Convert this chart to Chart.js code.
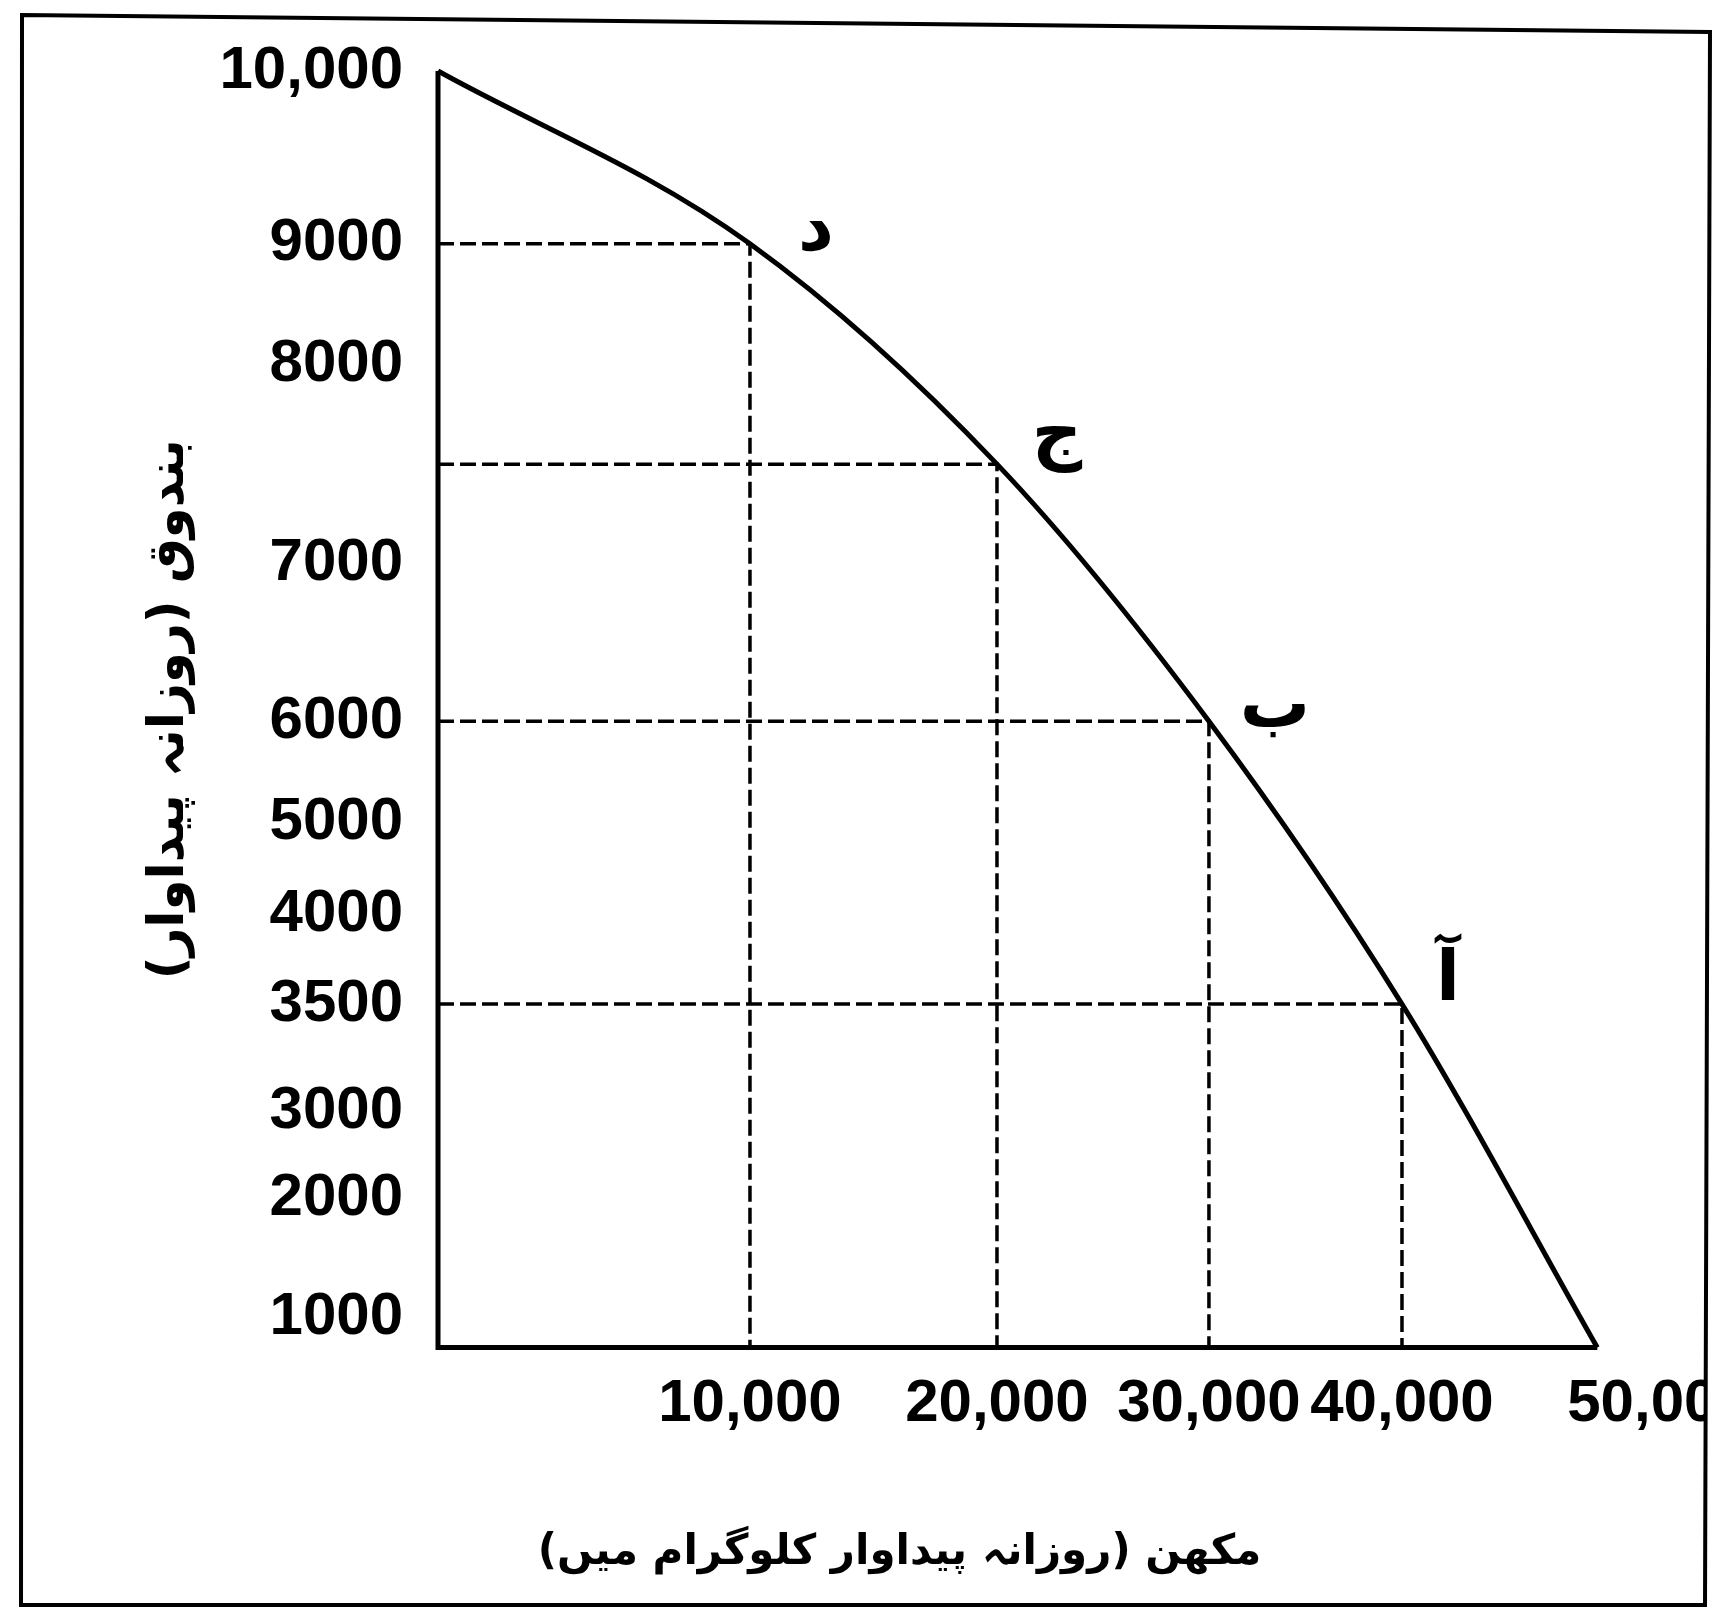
<!DOCTYPE html>
<html>
<head>
<meta charset="utf-8">
<script src="https://cdn.jsdelivr.net/npm/chart.js@4.4.1/dist/chart.umd.min.js"></script>
<style>
  html, body { margin: 0; padding: 0; background: #fff; overflow: hidden; width: 1714px; height: 1611px; }
  #wrap { position: absolute; left: 0; top: 0; width: 1714px; height: 1611px; overflow: hidden; }
  canvas { position: absolute; left: 0; top: 0; }
</style>
</head>
<body>
<div id="wrap"><canvas id="c" width="1800" height="1611" dir="rtl"></canvas></div>
<script>
// ---------------- DATA ----------------
const curveButter = [0, 10000, 20000, 30000, 40000, 47600];
const curveGuns   = [10000, 9000, 7500, 6000, 3500, 0];

const pointLetters = ['د', 'ج', 'ب', 'آ'];
const pointButter  = [10000, 20000, 30000, 40000];
const pointGuns    = [9000, 7500, 6000, 3500];

const yTickValues = [1000, 2000, 3000, 3500, 4000, 5000, 6000, 7000, 8000, 9000, 10000];
const yTickLabels = ['1000', '2000', '3000', '3500', '4000', '5000', '6000', '7000', '8000', '9000', '10,000'];
const xTickValues = [10000, 20000, 30000, 40000, 50000];
const xTickLabels = ['10,000', '20,000', '30,000', '40,000', '50,000'];

const xTitle = 'مکھن (روزانہ پیداوار کلوگرام میں)';
const yTitle = 'بندوق (روزانہ پیداوار)';

// ---------------- LAYOUT (hand-drawn, non-uniform axis spacing) ----------------
const axisSpacing = {
  x: { values: [0, 10000, 20000, 30000, 40000, 50000],
       fractions: [0, 0.2555, 0.4578, 0.6314, 0.7895, 1] },
  y: { values: [0, 1000, 2000, 3000, 3500, 4000, 5000, 6000, 7000, 8000, 9000, 10000],
       fractions: [0, 0.0233, 0.1166, 0.1851, 0.2691, 0.3390, 0.4114, 0.4907, 0.6143, 0.7698, 0.8647, 1] }
};
const tickSets = { x: xTickValues, y: yTickValues };
const letterOffsets = [[66, -12], [60, -26], [66, -12], [46, -22]];

// ---------------- custom scale: linear values, hand-drawn spacing ----------------
class WarpScale extends Chart.LinearScale {
  buildTicks() { return tickSets[this.id].map(v => ({ value: v })); }
  _frac(v) {
    const kv = axisSpacing[this.id].values, kf = axisSpacing[this.id].fractions;
    const n = kv.length - 1;
    if (v <= kv[0]) return kf[0] + (v - kv[0]) * (kf[1] - kf[0]) / (kv[1] - kv[0]);
    for (let i = 1; i <= n; i++) {
      if (v <= kv[i]) {
        const t = (v - kv[i - 1]) / (kv[i] - kv[i - 1]);
        return kf[i - 1] + t * (kf[i] - kf[i - 1]);
      }
    }
    return kf[n] + (v - kv[n]) * (kf[n] - kf[n - 1]) / (kv[n] - kv[n - 1]);
  }
  getPixelForValue(value) {
    if (value === null || value === undefined || isNaN(value)) return NaN;
    return this.getPixelForDecimal(this._frac(+value));
  }
  getValueForPixel(pixel) {
    const d = this.getDecimalForPixel(pixel);
    const kv = axisSpacing[this.id].values, kf = axisSpacing[this.id].fractions;
    for (let i = 1; i < kv.length; i++) {
      if (d <= kf[i]) return kv[i - 1] + (d - kf[i - 1]) / (kf[i] - kf[i - 1]) * (kv[i] - kv[i - 1]);
    }
    return kv[kv.length - 1];
  }
}
WarpScale.id = 'warp';
WarpScale.defaults = {};
Chart.register(WarpScale);

// ---------------- datasets ----------------
const black = '#000';
const datasets = [];

// PPF curve
datasets.push({
  data: curveButter.map((b, i) => ({ x: b, y: curveGuns[i] })),
  borderColor: black, borderWidth: 5, pointRadius: 0,
  cubicInterpolationMode: 'monotone', clip: false, order: 0
});
// dashed guide lines
pointButter.forEach((b, i) => {
  datasets.push({
    data: [{ x: 0, y: pointGuns[i] }, { x: b, y: pointGuns[i] }, { x: b, y: 0 }],
    borderColor: black, borderWidth: 3.5, borderDash: [16, 6], pointRadius: 0,
    tension: 0, clip: false, order: 2
  });
});
// axes lines
datasets.push({
  data: [{ x: 0, y: curveGuns[0] }, { x: 0, y: 0 }, { x: curveButter[curveButter.length - 1], y: 0 }],
  borderColor: black, borderWidth: 5, pointRadius: 0, tension: 0, clip: false, order: 1
});
// labelled points
const labelIdx = datasets.length;
datasets.push({
  data: pointButter.map((b, i) => ({ x: b, y: pointGuns[i] })),
  showLine: false, pointRadius: 0, borderColor: black
});

// ---------------- plugins ----------------
const pointLabelPlugin = {
  id: 'pointLabelPlugin',
  afterDatasetsDraw(chart) {
    const ctx = chart.ctx;
    const meta = chart.getDatasetMeta(labelIdx);
    ctx.save();
    ctx.font = 'bold 70px "DejaVu Sans"';
    ctx.fillStyle = black;
    ctx.textAlign = 'center';
    ctx.textBaseline = 'middle';
    pointLetters.forEach((t, i) => {
      const el = meta.data[i];
      ctx.fillText(t, el.x + letterOffsets[i][0], el.y + letterOffsets[i][1]);
    });
    ctx.restore();
  }
};
const framePlugin = {
  id: 'framePlugin',
  afterDraw(chart) {
    const ctx = chart.ctx;
    ctx.save();
    ctx.fillStyle = '#fff';
    ctx.fillRect(1707, 0, chart.width - 1707, chart.height);
    ctx.strokeStyle = black;
    ctx.lineWidth = 4;
    ctx.beginPath();
    ctx.moveTo(22, 15);
    ctx.lineTo(1710, 32);
    ctx.lineTo(1705, 1605);
    ctx.lineTo(21, 1605);
    ctx.closePath();
    ctx.stroke();
    ctx.restore();
  }
};

const tickFont = { family: '"Liberation Sans", Arial, sans-serif', size: 60, weight: 'bold' };
const urduFontX = { family: '"DejaVu Sans"', size: 42, weight: 'bold' };
const urduFontY = { family: '"DejaVu Sans"', size: 50, weight: 'bold' };

new Chart(document.getElementById('c'), {
  type: 'line',
  data: { datasets },
  options: {
    responsive: false,
    animation: false,
    devicePixelRatio: 1,
    layout: { padding: { left: 140, top: 62, right: 141, bottom: 0 } },
    plugins: {
      legend: { display: false },
      tooltip: { enabled: false },
      title: {
        display: true, position: 'bottom', align: 'center', text: xTitle,
        font: urduFontX, color: black, padding: { top: 0, bottom: 33 }
      }
    },
    scales: {
      x: {
        type: 'warp', min: 0, max: 50000, position: 'bottom',
        grid: { display: false, drawTicks: false },
        border: { display: false },
        ticks: {
          autoSkip: false, maxRotation: 0, minRotation: 0, padding: 21,
          font: tickFont, color: black,
          callback: (v) => xTickLabels[xTickValues.indexOf(v)]
        },
        afterFit: (s) => { s.height = 180; }
      },
      y: {
        type: 'warp', min: 0, max: 10000, position: 'left',
        grid: { display: false, drawTicks: false },
        border: { display: false },
        ticks: {
          autoSkip: false, padding: 35, font: tickFont, color: black,
          callback: (v) => yTickLabels[yTickValues.indexOf(v)]
        },
        title: { display: true, text: yTitle, font: urduFontY, color: black, padding: { top: 0 } },
        afterFit: (s) => { s.width = 298; }
      }
    }
  },
  plugins: [pointLabelPlugin, framePlugin]
});
</script>
</body>
</html>
